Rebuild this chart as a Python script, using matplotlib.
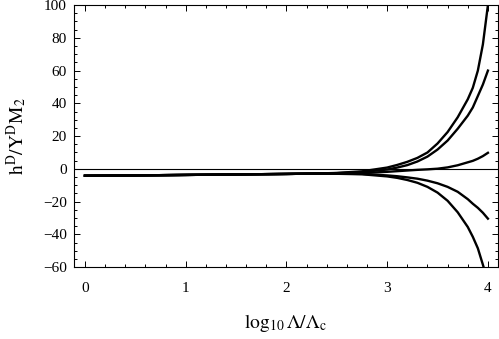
import numpy as np
import matplotlib
matplotlib.use("Agg")
import matplotlib.pyplot as plt
from matplotlib.ticker import MultipleLocator

plt.rcParams["font.family"] = ["Liberation Serif", "DejaVu Serif"]
plt.rcParams["mathtext.fontset"] = "stix"

# ---- data ----
LOG_LAMBDA = [0.0, 0.5, 1.0, 1.5, 2.0, 2.25, 2.5, 2.75, 3.0, 3.1, 3.2, 3.3,
              3.4, 3.5, 3.6, 3.7, 3.8, 3.85, 3.9, 3.95, 4.0]
CURVE_A = [-4.2, -4.0, -3.7, -3.4, -3.1, -2.9, -2.5, -1.5, 0.8, 2.4, 4.3, 6.7,
           10.0, 15.5, 22.5, 31.5, 42.5, 49.5, 60.0, 76.0, 100.0]
CURVE_B = [-4.2, -4.0, -3.7, -3.4, -3.1, -2.9, -2.6, -1.9, -0.4, 0.8, 2.3, 4.5,
           7.5, 11.8, 17.3, 24.5, 32.5, 37.5, 44.5, 51.5, 60.0]
CURVE_C = [-4.2, -4.0, -3.7, -3.4, -3.1, -2.9, -2.8, -2.6, -1.8, -1.4, -1.0, -0.6,
           -0.3, 0.1, 0.9, 2.2, 4.0, 4.9, 6.2, 7.8, 9.8]
CURVE_D = [-4.2, -4.0, -3.7, -3.4, -3.1, -2.9, -2.9, -3.1, -4.0, -4.5, -5.2, -6.0,
           -7.2, -8.8, -11.0, -14.0, -18.5, -21.3, -23.8, -26.8, -30.4]
CURVE_E = [-4.2, -4.0, -3.7, -3.4, -3.1, -2.9, -3.0, -3.3, -4.6, -5.5, -6.8, -8.5,
           -11.0, -14.5, -19.5, -26.5, -35.5, -41.5, -48.5, -58.5, -69.0]

X_TICKS = [0, 1, 2, 3, 4]
Y_TICKS = [-60, -40, -20, 0, 20, 40, 60, 80, 100]

# ---- figure ----
fig = plt.figure(figsize=(4.99, 3.39), dpi=100)
ax = fig.add_axes([0.148, 0.212, 0.85, 0.773])

ax.axhline(0, color="black", lw=0.8)
for curve in [CURVE_A, CURVE_B, CURVE_C, CURVE_D, CURVE_E]:
    ax.plot(LOG_LAMBDA, curve, color="black", lw=1.7)

ax.set_xlim(-0.11, 4.10)
ax.set_ylim(-60, 100)
ax.set_xticks(X_TICKS)
ax.set_yticks(Y_TICKS)
ax.xaxis.set_minor_locator(MultipleLocator(0.2))
ax.yaxis.set_minor_locator(MultipleLocator(5))
ax.tick_params(which="both", direction="in", top=True, right=True, labelsize=11, width=0.7)
ax.tick_params(which="major", length=4)
ax.tick_params(axis="x", which="major", pad=11)
ax.tick_params(axis="y", which="major", pad=5)
ax.tick_params(which="minor", length=2)
for sp in ax.spines.values():
    sp.set_linewidth(0.8)

ax.set_xlabel(r"$\mathrm{log_{10}}\,\Lambda/\Lambda_\mathrm{c}$", fontsize=14, labelpad=12)
ax.set_ylabel(r"$\mathrm{h^D/Y^D M_2}$", fontsize=14, labelpad=10)

fig.savefig("out.png", dpi=100)
